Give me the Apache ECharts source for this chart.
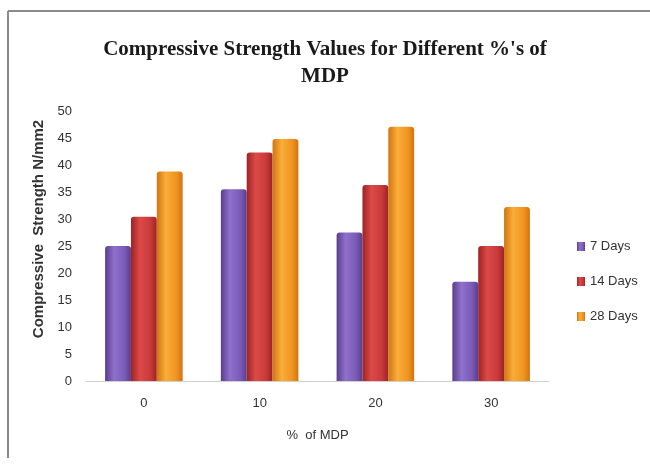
<!DOCTYPE html>
<html>
<head>
<meta charset="utf-8">
<script src="https://cdn.jsdelivr.net/npm/echarts@6/dist/echarts.min.js"></script>
<style>
    html, body { margin: 0; padding: 0; background: #fff; }
    #chart { width: 650px; height: 465px; }
</style>
</head>
<body>
<div id="chart"></div>
<script>
var categories = ["0", "10", "20", "30"];
var seriesNames = ["7 Days", "14 Days", "28 Days"];
var days7 = [25.0, 35.5, 27.5, 18.4];
var days14 = [30.4, 42.3, 36.3, 25.0];
var days28 = [38.8, 44.8, 47.1, 32.2];

// cylinder-ish look: dark edge, light middle, dark edge
function barColor(dark, light, mid) {
    return new echarts.graphic.LinearGradient(0, 0, 1, 0, [
        {offset: 0, color: dark},
        {offset: 0.35, color: light},
        {offset: 0.75, color: mid},
        {offset: 1, color: dark}
    ]);
}

var font = 'Liberation Sans Narrow, Liberation Sans';

var chart = echarts.init(document.getElementById('chart'));
chart.setOption({
    animation: false,
    backgroundColor: '#fff',
    title: {
        text: "Compressive Strength Values for Different %'s of\nMDP",
        left: 'center',
        top: 31,
        textStyle: {
            fontFamily: 'Liberation Serif',
            fontWeight: 'bold',
            fontSize: 21,
            lineHeight: 27,
            color: '#1a1a1a'
        }
    },
    graphic: [
        {type: 'line', shape: {x1: 8, y1: 11, x2: 650, y2: 11}, style: {stroke: '#8a8a8a', lineWidth: 2}},
        {type: 'line', shape: {x1: 8, y1: 11, x2: 8, y2: 458}, style: {stroke: '#8a8a8a', lineWidth: 2}}
    ],
    legend: {
        orient: 'vertical',
        left: 572,
        top: 235,
        itemWidth: 8,
        itemHeight: 9,
        itemGap: 22,
        icon: 'rect',
        data: seriesNames,
        textStyle: {fontFamily: font, fontSize: 13, color: '#333'}
    },
    grid: {left: 86, right: 101, top: 111, bottom: 84, outerBoundsMode: 'none'},
    xAxis: {
        type: 'category',
        data: categories,
        name: '%  of MDP',
        nameLocation: 'middle',
        nameGap: 48,
        nameTextStyle: {fontFamily: font, fontSize: 13, color: '#333'},
        axisLine: {lineStyle: {color: '#d0d0d0', width: 1}},
        axisTick: {show: false},
        axisLabel: {margin: 16, fontFamily: font, fontSize: 13, color: '#333'}
    },
    yAxis: {
        type: 'value',
        min: 0,
        max: 50,
        interval: 5,
        name: 'Compressive  Strength N/mm2',
        nameLocation: 'middle',
        nameGap: 40,
        nameTextStyle: {fontFamily: font, fontSize: 15, fontWeight: 'bold', color: '#333', padding: [0, 0, 0, 34]},
        axisLine: {show: false},
        axisTick: {show: false},
        splitLine: {show: false},
        axisLabel: {margin: 14, fontFamily: font, fontSize: 13, color: '#333'}
    },
    series: [
        {
            name: seriesNames[0], type: 'bar', data: days7,
            barGap: '0%', barCategoryGap: '33%',
            itemStyle: {color: barColor('#5a3d8c', '#8f70cc', '#7a5cb8'), borderRadius: [3, 3, 0, 0]}
        },
        {
            name: seriesNames[1], type: 'bar', data: days14,
            barGap: '0%', barCategoryGap: '33%',
            itemStyle: {color: barColor('#9c2326', '#dc4a48', '#c93a3a'), borderRadius: [3, 3, 0, 0]}
        },
        {
            name: seriesNames[2], type: 'bar', data: days28,
            barGap: '0%', barCategoryGap: '33%',
            itemStyle: {color: barColor('#d27410', '#f9ad3a', '#f09520'), borderRadius: [3, 3, 0, 0]}
        }
    ]
});
</script>
</body>
</html>
